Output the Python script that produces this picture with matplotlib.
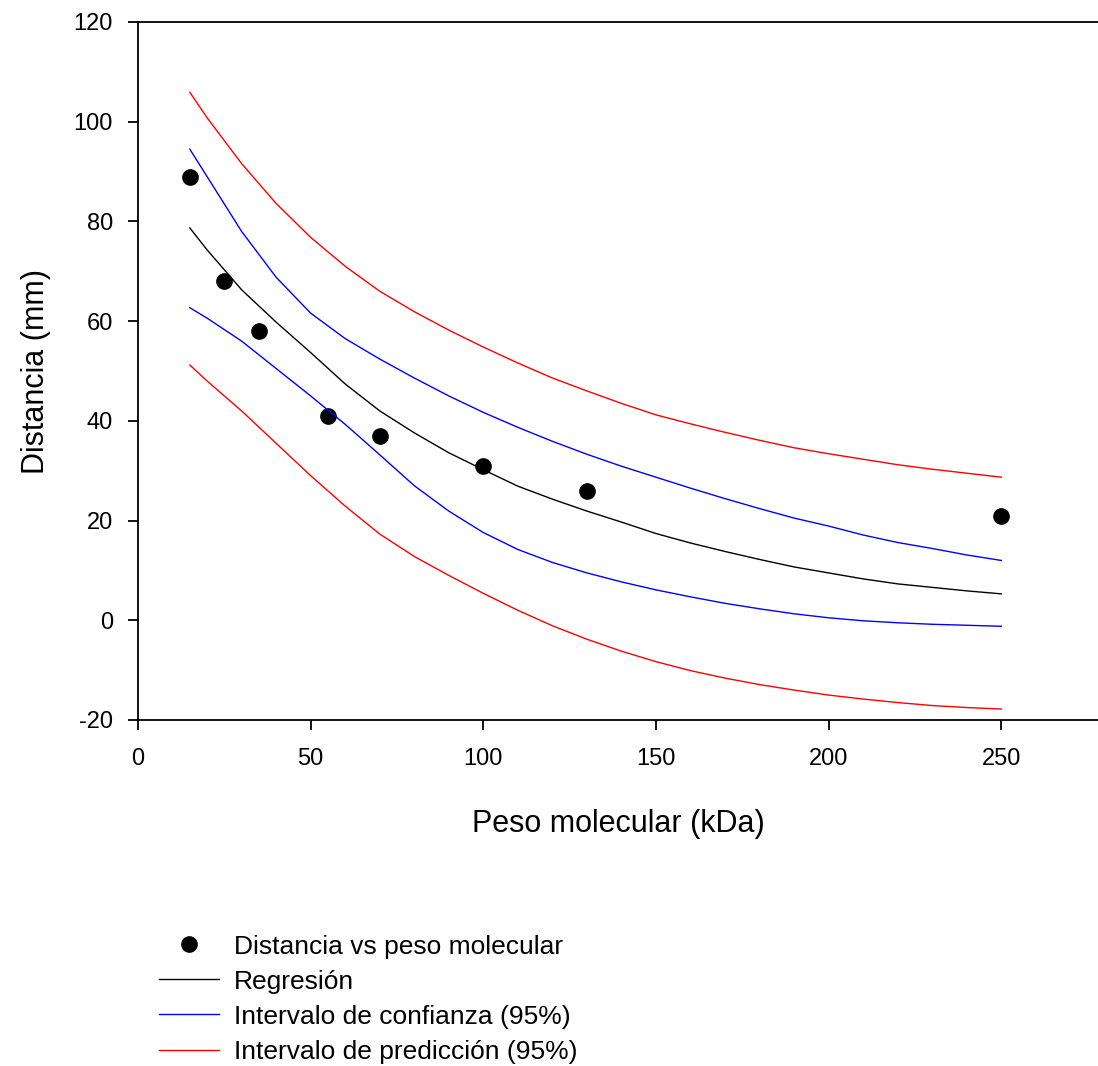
import numpy as np
import matplotlib.pyplot as plt

plt.rcParams['font.family'] = ['Liberation Sans', 'DejaVu Sans']
plt.rcParams['axes.unicode_minus'] = False

# measured points
peso = [15, 25, 35, 55, 70, 100, 130, 250]
distancia = [89, 68, 58, 41, 37, 31, 26, 21]

# curves
xc = [15, 20, 30, 40, 50, 60, 70, 80, 90, 100, 110, 120, 130, 140, 150,
      160, 170, 180, 190, 200, 210, 220, 230, 240, 250]
regresion = [78.7, 74.3, 66.3, 59.8, 53.7, 47.4, 42.0, 37.6, 33.6, 30.2,
             26.9, 24.3, 21.9, 19.7, 17.4, 15.5, 13.8, 12.2, 10.7, 9.5,
             8.3, 7.3, 6.6, 5.9, 5.3]
conf_sup = [94.5, 89.0, 78.0, 68.8, 61.6, 56.5, 52.4, 48.6, 45.0, 41.7,
            38.7, 35.9, 33.3, 30.9, 28.7, 26.5, 24.4, 22.4, 20.5, 18.9,
            17.1, 15.6, 14.4, 13.1, 12.0]
conf_inf = [62.7, 60.6, 56.0, 50.5, 45.0, 39.3, 33.2, 27.0, 21.9, 17.6,
            14.2, 11.6, 9.5, 7.7, 6.1, 4.7, 3.4, 2.3, 1.3, 0.5,
            -0.1, -0.5, -0.8, -1.0, -1.2]
pred_sup = [105.9, 100.8, 91.6, 83.6, 76.8, 71.0, 66.0, 61.9, 58.2, 54.8,
            51.6, 48.6, 46.0, 43.5, 41.2, 39.4, 37.7, 36.1, 34.6, 33.4,
            32.3, 31.2, 30.3, 29.5, 28.7]
pred_inf = [51.2, 48.0, 42.0, 35.5, 29.0, 22.9, 17.3, 12.8, 9.0, 5.4,
            2.0, -1.1, -3.8, -6.2, -8.3, -10.1, -11.6, -12.9, -14.0, -15.0,
            -15.8, -16.5, -17.1, -17.5, -17.8]

fig = plt.figure(figsize=(10.98, 10.66), dpi=100)
ax = fig.add_axes([138 / 1098, 1 - 720 / 1066, 1 - 138 / 1098, (720 - 22) / 1066])

lw = 1.0
ax.plot(peso, distancia, 'o', color='black', ms=11, label='Distancia vs peso molecular')
ax.plot(xc, regresion, color='black', lw=lw, label='Regresión')
ax.plot(xc, conf_sup, color='blue', lw=lw, label='Intervalo de confianza (95%)')
ax.plot(xc, conf_inf, color='blue', lw=lw)
ax.plot(xc, pred_sup, color='red', lw=lw, label='Intervalo de predicción (95%)')
ax.plot(xc, pred_inf, color='red', lw=lw)

ax.set_xlim(0, 278)
ax.set_ylim(-20, 120)
ax.set_xticks([0, 50, 100, 150, 200, 250])
ax.set_yticks(range(-20, 121, 20))
ax.spines['right'].set_visible(False)
for s in ['left', 'bottom', 'top']:
    ax.spines[s].set_linewidth(1.3)
ax.tick_params(direction='out', length=7, width=1.3, labelsize=17)
ax.tick_params(axis='x', pad=13)
ax.tick_params(axis='y', pad=11)

ax.set_xlabel('Peso molecular (kDa)', fontsize=22, labelpad=28)
ax.set_ylabel('Distancia (mm)', fontsize=22, labelpad=16)

fig.legend(loc='upper left', bbox_to_anchor=(148 / 1098, 1 - 924 / 1066),
           frameon=False, fontsize=19, handlelength=2.3, handletextpad=0.55,
           labelspacing=0.42, borderaxespad=0)

fig.savefig('out.png', dpi=100)
